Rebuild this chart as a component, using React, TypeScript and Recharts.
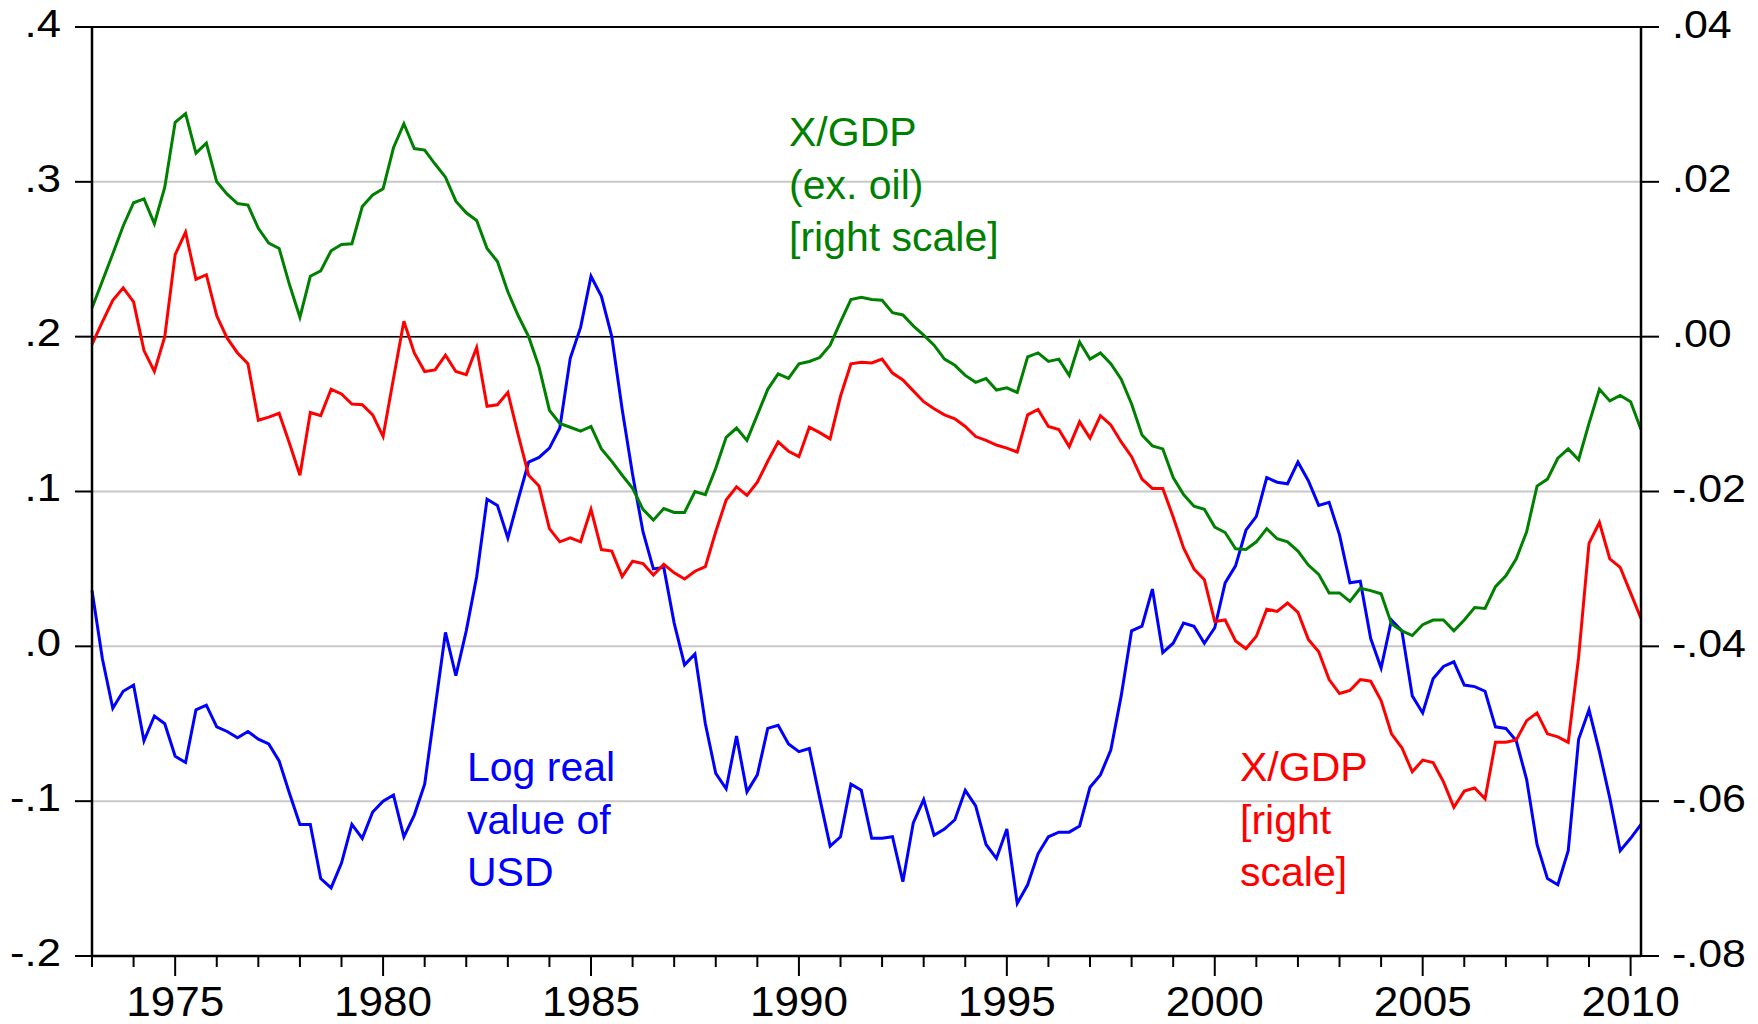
import {
  CartesianGrid,
  Line,
  LineChart,
  ReferenceLine,
  XAxis,
  YAxis,
} from 'recharts'

// quarterly, 1973Q1 .. 2010Q2
const startYear = 1973
const quarterCount = 150

const yearTicks = [
  1973, 1974, 1975, 1976, 1977, 1978, 1979, 1980, 1981, 1982, 1983, 1984, 1985,
  1986, 1987, 1988, 1989, 1990, 1991, 1992, 1993, 1994, 1995, 1996, 1997, 1998,
  1999, 2000, 2001, 2002, 2003, 2004, 2005, 2006, 2007, 2008, 2009, 2010,
]
const leftTicks = [-0.2, -0.1, 0, 0.1, 0.2, 0.3, 0.4]
const rightTicks = [-0.08, -0.06, -0.04, -0.02, 0, 0.02, 0.04]

// log real value of USD (left scale)
const usd = [
  0.036, -0.008, -0.04, -0.029, -0.025, -0.061, -0.045, -0.05, -0.071, -0.075,
  -0.041, -0.038, -0.052, -0.055, -0.059, -0.055, -0.06, -0.063, -0.074, -0.095,
  -0.115, -0.115, -0.15, -0.156, -0.14, -0.115, -0.124, -0.107, -0.1, -0.096,
  -0.123, -0.109, -0.089, -0.04, 0.009, -0.019, 0.01, 0.045, 0.095, 0.091,
  0.07, 0.095, 0.119, 0.122, 0.128, 0.141, 0.186, 0.206, 0.239, 0.226,
  0.2, 0.153, 0.111, 0.074, 0.05, 0.051, 0.015, -0.012, -0.005, -0.05,
  -0.082, -0.092, -0.058, -0.094, -0.083, -0.053, -0.051, -0.063, -0.068, -0.066,
  -0.098, -0.129, -0.123, -0.089, -0.093, -0.124, -0.124, -0.123, -0.152, -0.114,
  -0.099, -0.122, -0.118, -0.112, -0.093, -0.103, -0.128, -0.137, -0.118, -0.166,
  -0.154, -0.134, -0.123, -0.12, -0.12, -0.116, -0.091, -0.083, -0.067, -0.032,
  0.01, 0.013, 0.037, -0.004, 0.002, 0.015, 0.013, 0.002, 0.012, 0.041,
  0.052, 0.075, 0.084, 0.109, 0.106, 0.105, 0.119, 0.107, 0.091, 0.093,
  0.072, 0.041, 0.042, 0.005, -0.014, 0.017, 0.01, -0.032, -0.043, -0.021,
  -0.013, -0.01, -0.025, -0.026, -0.029, -0.052, -0.053, -0.061, -0.086, -0.128,
  -0.15, -0.154, -0.132, -0.06, -0.041, -0.068, -0.098, -0.132, -0.124, -0.115,
]

// X/GDP ex. oil (right scale)
const xgdpExOil = [
  0.0037, 0.0072, 0.0107, 0.0143, 0.0173, 0.0178, 0.0146, 0.0193, 0.0277, 0.0288,
  0.0237, 0.025, 0.02, 0.0184, 0.0172, 0.017, 0.014, 0.0121, 0.0114, 0.0067,
  0.0025, 0.0078, 0.0085, 0.0111, 0.0119, 0.012, 0.0168, 0.0183, 0.0191, 0.0244,
  0.0275, 0.0243, 0.0241, 0.0223, 0.0206, 0.0175, 0.016, 0.015, 0.0114, 0.0097,
  0.0058, 0.0027, 0.0, -0.0039, -0.0095, -0.0112, -0.0117, -0.0122, -0.0116, -0.0145,
  -0.0161, -0.0179, -0.0196, -0.0223, -0.0237, -0.0222, -0.0227, -0.0227, -0.02, -0.0204,
  -0.017, -0.013, -0.0118, -0.0134, -0.0101, -0.0068, -0.0048, -0.0054, -0.0035, -0.0032,
  -0.0027, -0.0011, 0.0019, 0.0048, 0.0051, 0.0048, 0.0047, 0.0031, 0.0028, 0.0014,
  0.0002, -0.0011, -0.0029, -0.0037, -0.005, -0.0059, -0.0054, -0.0069, -0.0066, -0.0072,
  -0.0026, -0.0021, -0.0032, -0.0029, -0.005, -0.0007, -0.0029, -0.0021, -0.0035, -0.0055,
  -0.0087, -0.0127, -0.0141, -0.0145, -0.0182, -0.0204, -0.0219, -0.0223, -0.0246, -0.0253,
  -0.0274, -0.0275, -0.0265, -0.0248, -0.0261, -0.0265, -0.0277, -0.0295, -0.0307, -0.0331,
  -0.0331, -0.0342, -0.0325, -0.0328, -0.0332, -0.0371, -0.038, -0.0386, -0.0372, -0.0366,
  -0.0366, -0.038, -0.0366, -0.035, -0.0351, -0.0323, -0.0309, -0.0287, -0.0252, -0.0193,
  -0.0184, -0.0157, -0.0145, -0.0159, -0.0112, -0.0068, -0.0083, -0.0076, -0.0084, -0.012,
]

// X/GDP (right scale)
const xgdp = [
  -0.001, 0.0019, 0.0047, 0.0063, 0.0045, -0.0018, -0.0045, 0.0, 0.0106, 0.0135,
  0.0074, 0.008, 0.0027, -0.0002, -0.0021, -0.0035, -0.0108, -0.0104, -0.0099, -0.0138,
  -0.0179, -0.0098, -0.0102, -0.0068, -0.0074, -0.0087, -0.0088, -0.0101, -0.0129, -0.0054,
  0.002, -0.0021, -0.0045, -0.0043, -0.0024, -0.0045, -0.0049, -0.0014, -0.009, -0.0088,
  -0.0072, -0.0127, -0.0179, -0.0193, -0.0248, -0.0265, -0.026, -0.0265, -0.0223, -0.0275,
  -0.0277, -0.031, -0.029, -0.0293, -0.0308, -0.0294, -0.0305, -0.0313, -0.0303, -0.0297,
  -0.0252, -0.0211, -0.0194, -0.0205, -0.0188, -0.0161, -0.0136, -0.0148, -0.0155, -0.0117,
  -0.0124, -0.0132, -0.0077, -0.0035, -0.0033, -0.0034, -0.0029, -0.0047, -0.0056, -0.007,
  -0.0084, -0.0093, -0.0101, -0.0106, -0.0116, -0.0129, -0.0134, -0.014, -0.0144, -0.0149,
  -0.0101, -0.0094, -0.0116, -0.012, -0.0142, -0.011, -0.0131, -0.0102, -0.0114, -0.0136,
  -0.0155, -0.0184, -0.0196, -0.0196, -0.0233, -0.0273, -0.03, -0.0314, -0.0368, -0.0366,
  -0.0393, -0.0403, -0.0387, -0.0352, -0.0355, -0.0344, -0.0356, -0.0391, -0.0407, -0.0443,
  -0.0461, -0.0457, -0.0443, -0.0445, -0.047, -0.0513, -0.0531, -0.0562, -0.0547, -0.055,
  -0.0575, -0.0608, -0.0587, -0.0583, -0.0597, -0.0524, -0.0524, -0.0521, -0.0496, -0.0486,
  -0.0513, -0.0517, -0.0524, -0.0414, -0.0267, -0.024, -0.0287, -0.0298, -0.0331, -0.0364,
]

const data = Array.from({ length: quarterCount }, (_, i) => ({
  t: startYear + i / 4,
  usd: usd[i],
  exOil: xgdpExOil[i],
  xgdp: xgdp[i],
}))

const FONT = '"Liberation Sans", Arial, sans-serif'

const fmtLeft = (v: number) => v.toFixed(1).replace('0.', '.')
const fmtRight = (v: number) => v.toFixed(2).replace('0.', '.')

// eviews-style labels are a little wider than plain Arial
function YearTick({ x, y, payload }: any) {
  const major = payload.value % 5 === 0
  return (
    <g>
      <line x1={x} x2={x} y1={y} y2={y + (major ? 20 : 11)} stroke="#000" strokeWidth={2} />
      {major && (
        <text
          transform={`translate(${x},${y + 60}) scale(1.05,1)`}
          textAnchor="middle"
          fontSize={42}
          fontFamily={FONT}
          fill="#000"
        >
          {payload.value}
        </text>
      )}
    </g>
  )
}

function LeftTick({ x, y, payload }: any) {
  return (
    <text
      transform={`translate(${x},${y}) scale(1.12,1)`}
      dy="0.25em"
      textAnchor="end"
      fontSize={39}
      fontFamily={FONT}
      fill="#000"
    >
      {fmtLeft(payload.value)}
    </text>
  )
}

function RightTick({ x, y, payload }: any) {
  return (
    <text
      transform={`translate(${x},${y}) scale(1.1,1)`}
      dy="0.27em"
      textAnchor="start"
      fontSize={39}
      fontFamily={FONT}
      fill="#000"
    >
      {fmtRight(payload.value)}
    </text>
  )
}

const labelStyle = {
  position: 'absolute' as const,
  fontFamily: FONT,
  fontSize: 41,
  lineHeight: '52.5px',
  whiteSpace: 'nowrap' as const,
}

export default function App() {
  return (
    <div style={{ position: 'absolute', left: 0, top: 0, width: 1758, height: 1024, background: '#fff' }}>
      <LineChart
        width={1758}
        height={1024}
        data={data}
        margin={{ top: 27, right: 0, bottom: 0, left: 0 }}
      >
        <CartesianGrid yAxisId="left" vertical={false} stroke="#c8c8c8" strokeWidth={2} />
        <XAxis
          dataKey="t"
          type="number"
          domain={[1973, 2010.25]}
          ticks={yearTicks}
          interval={0}
          height={68}
          tickSize={0}
          tickMargin={0}
          tickLine={false}
          axisLine={{ stroke: '#000', strokeWidth: 2.5 }}
          tick={<YearTick />}
        />
        <YAxis
          yAxisId="left"
          width={92}
          domain={[-0.2, 0.4]}
          ticks={leftTicks}
          interval={0}
          allowDataOverflow
          tickSize={17}
          tickMargin={14}
          tickLine={{ stroke: '#000', strokeWidth: 2 }}
          axisLine={{ stroke: '#000', strokeWidth: 2.5 }}
          tick={<LeftTick />}
        />
        <YAxis
          yAxisId="right"
          orientation="right"
          width={117}
          domain={[-0.08, 0.04]}
          ticks={rightTicks}
          interval={0}
          allowDataOverflow
          tickSize={18}
          tickMargin={13}
          tickLine={{ stroke: '#000', strokeWidth: 2 }}
          axisLine={{ stroke: '#000', strokeWidth: 2.5 }}
          tick={<RightTick />}
        />
        <ReferenceLine yAxisId="left" y={0.4} stroke="#000" strokeWidth={2} />
        <ReferenceLine yAxisId="left" y={0.2} stroke="#000" strokeWidth={1.5} />
        <Line
          yAxisId="left"
          dataKey="usd"
          type="linear"
          stroke="#0000ff"
          strokeWidth={3}
          dot={false}
          isAnimationActive={false}
        />
        <Line
          yAxisId="right"
          dataKey="exOil"
          type="linear"
          stroke="#008000"
          strokeWidth={3}
          dot={false}
          isAnimationActive={false}
        />
        <Line
          yAxisId="right"
          dataKey="xgdp"
          type="linear"
          stroke="#ff0000"
          strokeWidth={3}
          dot={false}
          isAnimationActive={false}
        />
      </LineChart>
      <div style={{ ...labelStyle, left: 789, top: 106, color: '#008000' }}>
        X/GDP<br />(ex. oil)<br />[right scale]
      </div>
      <div style={{ ...labelStyle, left: 467, top: 741, color: '#0000ff' }}>
        Log real<br />value of<br />USD
      </div>
      <div style={{ ...labelStyle, left: 1240, top: 741, color: '#ff0000' }}>
        X/GDP<br />[right<br />scale]
      </div>
    </div>
  )
}
